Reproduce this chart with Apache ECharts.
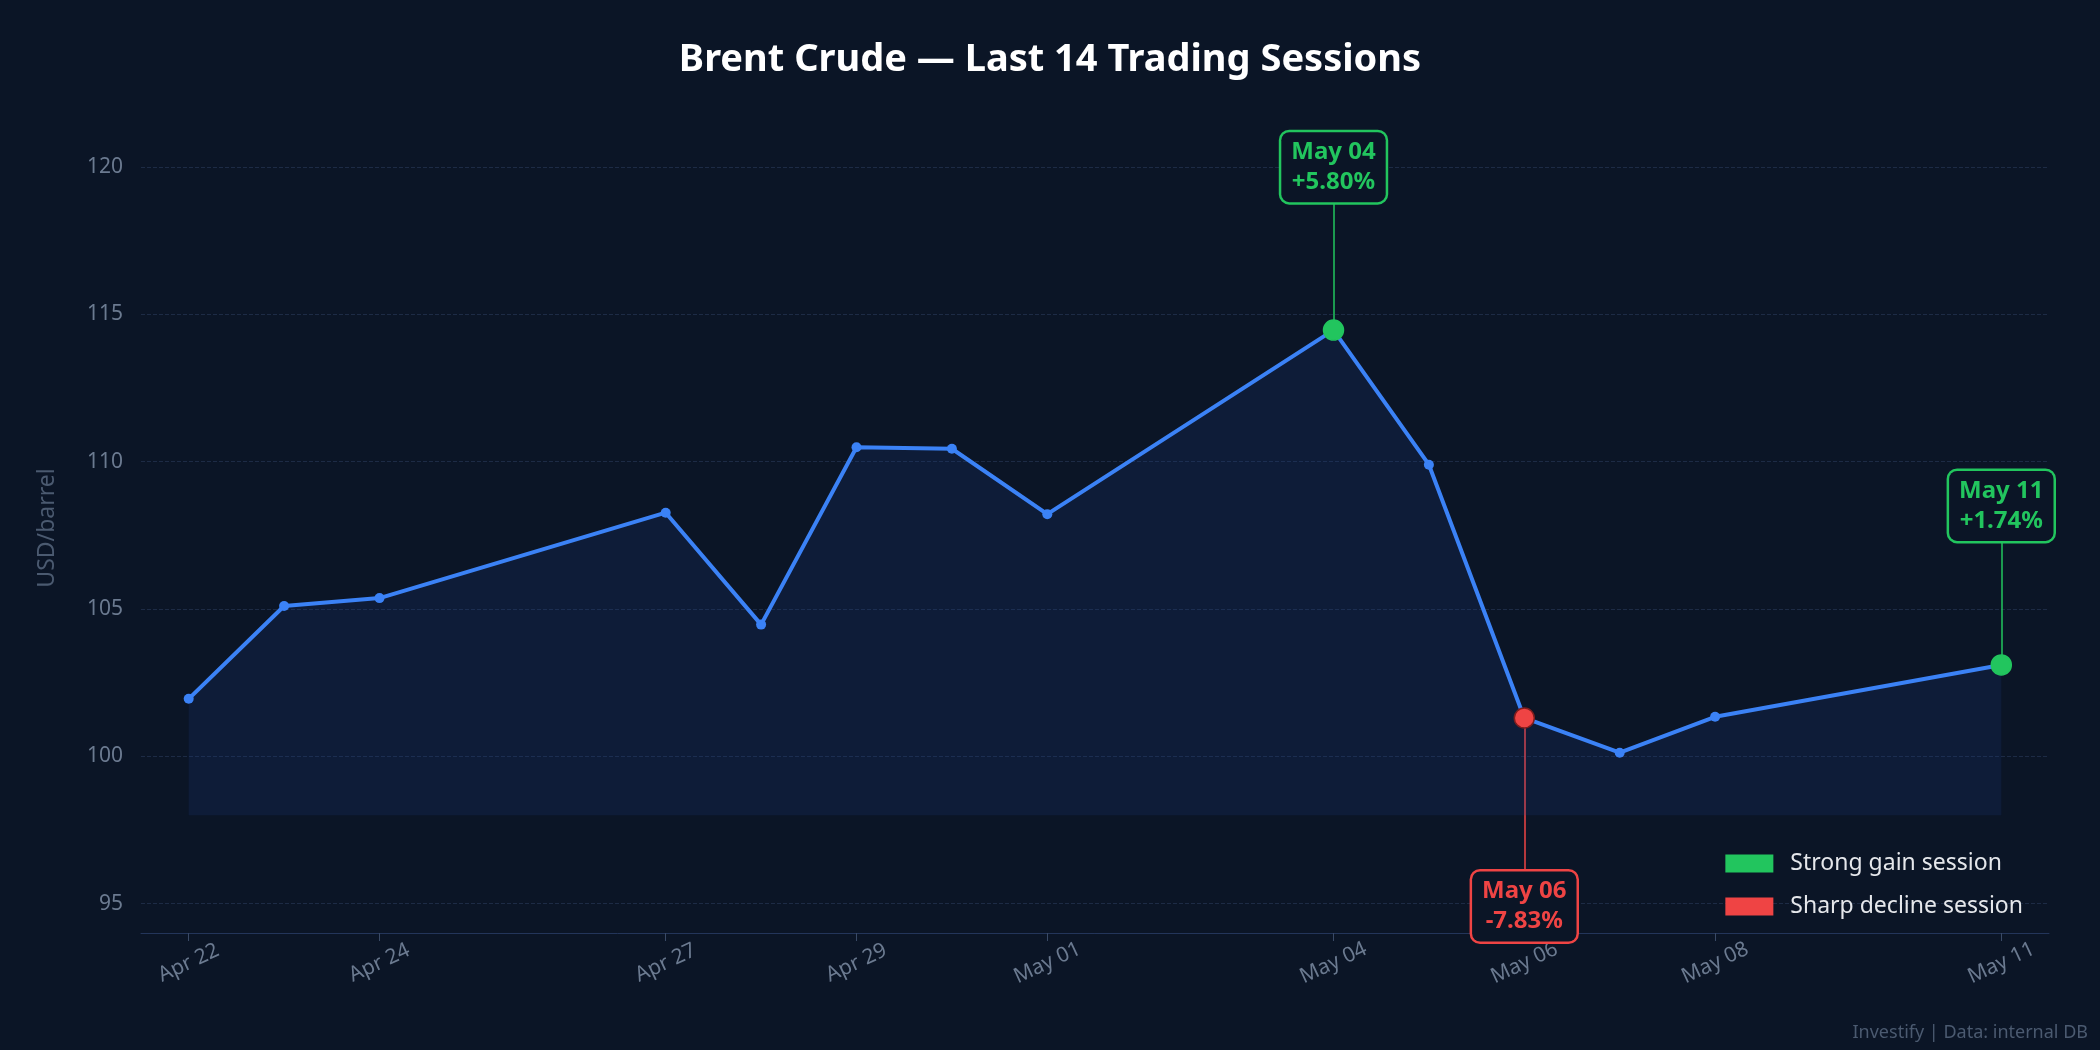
<!DOCTYPE html>
<html><head><meta charset="utf-8">
<script src="https://cdn.jsdelivr.net/npm/echarts@6/dist/echarts.min.js"></script>
<style>html,body{margin:0;background:#0b1526}#c{width:2100px;height:1050px}</style>
</head><body><div id="c"></div>
<script>
// Days since Apr 22 for each trading session
const dayIdx = [0, 1, 2, 5, 6, 7, 8, 9, 12, 13, 14, 15, 16, 19];
const dayNames = ['Apr 22','Apr 23','Apr 24','Apr 27','Apr 28','Apr 29','Apr 30','May 01','May 04','May 05','May 06','May 07','May 08','May 11'];
const prices = [101.95, 105.1, 105.37, 108.27, 104.47, 110.49, 110.44, 108.22, 114.47, 109.9, 101.3, 100.12, 101.34, 103.1];
const labelDays = [0, 2, 5, 7, 9, 12, 14, 16, 19];
const yTicks = [95, 100, 105, 110, 115, 120];
// annotations: [session index, change text, box level, kind]
const notes = [
  [8, '+5.80%', 120.0, 'gain'],
  [10, '-7.83%', 94.9, 'loss'],
  [13, '+1.74%', 108.5, 'gain']
];

const GREEN = '#22c55e', RED = '#ef4444', BLUE = '#3b82f6';
const nameOf = d => dayNames[dayIdx.indexOf(d)] || '';

const chart = echarts.init(document.getElementById('c'));

const points = dayIdx.map((d, i) => {
  const n = notes.find(x => x[0] === i);
  if (!n) return [d, prices[i]];
  const c = n[3] === 'gain' ? GREEN : RED;
  return { value: [d, prices[i]], symbolSize: 20,
    itemStyle: { color: c, borderColor: n[3] === 'gain' ? GREEN : '#7f1d1d', borderWidth: 1.5 } };
});

const connectors = notes.map(n => {
  const c = n[3] === 'gain' ? GREEN : RED;
  const d = dayIdx[n[0]];
  const end = n[3] === 'gain' ? n[2] - 1.0 : n[2] + 1.0;
  return [{ coord: [d, prices[n[0]]], lineStyle: { color: c, width: 2, type: 'solid', opacity: 0.75 } },
          { coord: [d, end] }];
});
const gridLines = yTicks.map(v => ({ yAxis: v, lineStyle: { color: '#1d2b45', type: 'dashed', width: 1 } }));

const boxes = notes.map(n => {
  const c = n[3] === 'gain' ? GREEN : RED;
  return { coord: [dayIdx[n[0]], n[2]], symbol: 'rect', symbolSize: 1,
    itemStyle: { color: 'rgba(0,0,0,0)' },
    label: { show: true, position: 'inside', formatter: dayNames[n[0]] + '\n' + n[1],
      color: c, fontWeight: 'bold', fontSize: 24, lineHeight: 30, align: 'center',
      backgroundColor: '#0b1526', borderColor: c, borderWidth: 2.5, borderRadius: 8,
      padding: [6, 10, 4, 10] } };
});

chart.setOption({
  backgroundColor: '#0b1526',
  textStyle: { fontFamily: 'Noto Sans' },
  title: { text: 'Brent Crude — Last 14 Trading Sessions', left: 'center', top: 36,
    textStyle: { color: '#ffffff', fontSize: 38, fontWeight: 'bold' } },
  graphic: [{ type: 'text', right: 12, bottom: 8,
    style: { text: 'Investify | Data: internal DB', fill: '#4b5a70', font: '18px "Noto Sans"' } }],
  legend: { orient: 'vertical', right: 72, top: 847, itemWidth: 48, itemHeight: 18, itemGap: 20, z: 50,
    textStyle: { color: '#e5e7eb', fontSize: 23, padding: [0, 0, 0, 12] },
    data: [{ name: 'Strong gain session', icon: 'rect' }, { name: 'Sharp decline session', icon: 'rect' }] },
  grid: { left: 141, right: 51, top: 123, bottom: 117 },
  xAxis: { type: 'value', min: -0.5, max: 19.5,
    axisLine: { lineStyle: { color: '#23355a' } },
    axisTick: { show: true, customValues: labelDays, length: 8, lineStyle: { color: '#3a4a66' } },
    splitLine: { show: false },
    axisLabel: { customValues: labelDays, formatter: v => nameOf(v), rotate: 25, align: 'center',
      color: '#6b7a90', fontSize: 21, margin: 30 } },
  yAxis: { type: 'value', min: 94, max: 121.5, name: 'USD/barrel', nameLocation: 'middle', nameGap: 82,
    nameTextStyle: { color: '#4b5a70', fontSize: 23 },
    axisLine: { show: false }, axisTick: { show: false }, splitLine: { show: false },
    axisLabel: { customValues: yTicks, color: '#6b7a90', fontSize: 21, margin: 18 } },
  series: [
    { name: 'Brent', type: 'line', data: points, symbol: 'circle', symbolSize: 10,
      itemStyle: { color: BLUE }, lineStyle: { color: BLUE, width: 4 },
      areaStyle: { origin: 98, color: 'rgba(30,64,140,0.25)' }, z: 3,
      markLine: { symbol: 'none', silent: true, z: 1, label: { show: false }, data: gridLines.concat(connectors) },
      markPoint: { data: boxes, z: 10 } },
    { name: 'Strong gain session', type: 'line', data: [], symbol: 'rect', itemStyle: { color: GREEN }, lineStyle: { width: 0, type: 'solid', opacity: 0 } },
    { name: 'Sharp decline session', type: 'line', data: [], symbol: 'rect', itemStyle: { color: RED }, lineStyle: { width: 0, type: 'solid', opacity: 0 } }
  ]
});
</script></body></html>
